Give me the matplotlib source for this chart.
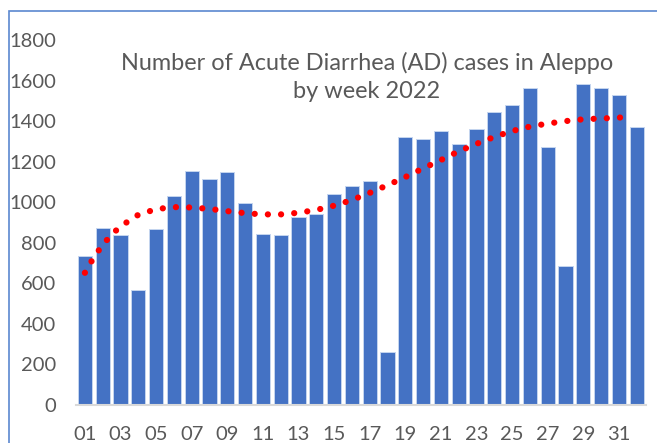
import matplotlib.pyplot as plt
from matplotlib.patches import Rectangle

weeks = list(range(1, 33))
week_labels = [f"{w:02d}" for w in weeks]
cases = [735, 873, 840, 569, 866, 1029, 1152, 1114, 1147, 996,
         843, 837, 927, 940, 1040, 1081, 1105, 260, 1321, 1312,
         1351, 1287, 1359, 1446, 1478, 1561, 1274, 685, 1583, 1563,
         1530, 1369]

# trendline
trend_x = [1, 1.5, 2, 2.5, 3, 4, 5, 6, 7, 8, 9, 10, 11, 12, 13, 14, 15, 16,
           17, 18, 19, 20, 21, 22, 23, 24, 25, 26, 27, 28, 29, 30, 31, 31.2]
trend_y = [652, 728, 790, 840, 881, 938, 966, 976, 974, 967, 956, 946, 940, 940,
           948, 962, 983, 1011, 1046, 1084, 1124, 1167, 1208, 1251, 1288, 1322,
           1351, 1373, 1388, 1400, 1409, 1413, 1417, 1419]

plt.rcParams['font.family'] = ['Lato', 'DejaVu Sans']
gray = '#595959'

fig = plt.figure(figsize=(6.57, 4.43), dpi=100)
ax = fig.add_axes([76 / 657, 38 / 443, 569.6 / 657, 365 / 443])

ax.bar(weeks, cases, width=0.8, color='#4472C4', edgecolor='#C5D5EF', linewidth=0.7, zorder=2)
ax.plot(trend_x, trend_y, color='#FF0000', linewidth=4.5,
        linestyle=(0, (0.01, 2.1)), dash_capstyle='round', zorder=3)

ax.set_xlim(0.5, 32.5)
ax.set_ylim(0, 1800)
ax.set_yticks(range(0, 1801, 200))
ax.set_xticks(weeks[::2])
ax.set_xticklabels(week_labels[::2])
ax.tick_params(axis='both', length=0, labelsize=14.5, colors=gray)
ax.tick_params(axis='y', pad=14.4)
ax.tick_params(axis='x', pad=15)

for s in ['top', 'right', 'left']:
    ax.spines[s].set_visible(False)
ax.spines['bottom'].set_color('#D9D9D9')
ax.spines['bottom'].set_linewidth(1.5)

fig.text(367 / 657, 1 - 77 / 443, "Number of Acute Diarrhea (AD) cases in Aleppo\nby week 2022",
         ha='center', va='center', fontsize=16.9, color=gray, linespacing=1.38)

# chart frame
fig.patches.append(Rectangle((9 / 657, -0.1), 1.0, 1 - 11 / 443 + 0.1, transform=fig.transFigure,
                             fill=False, edgecolor='#5B87D0', linewidth=1.2))

fig.savefig('out.png', dpi=100)
